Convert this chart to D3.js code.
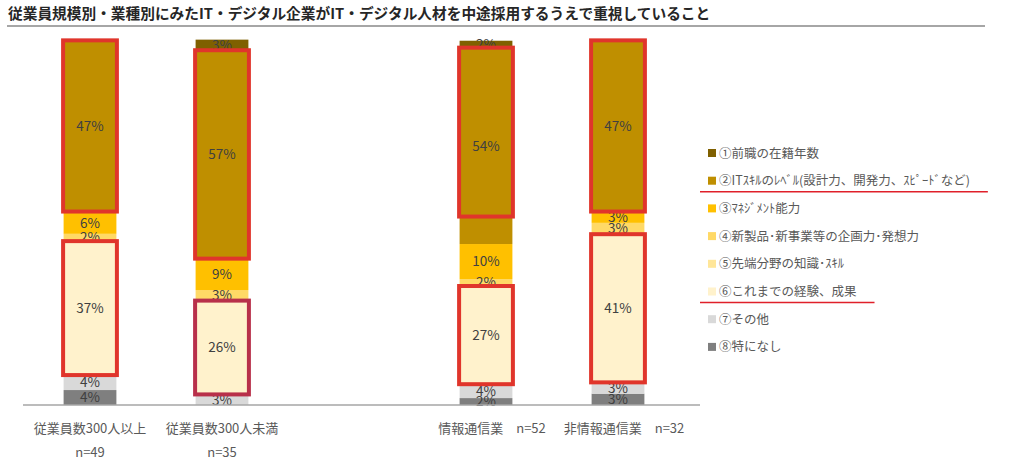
<!DOCTYPE html>
<html><head><meta charset="utf-8">
<script src="https://cdn.jsdelivr.net/npm/d3@7"></script>
<style>
body{margin:0;background:#fff;}
text{font-family:"Noto Sans CJK JP","Noto Sans",sans-serif;}
</style></head>
<body><svg id="c" width="1018" height="472"></svg>
<script>
const title = "従業員規模別・業種別にみたIT・デジタル企業がIT・デジタル人材を中途採用するうえで重視していること";
const categories = ["従業員数300人以上", "従業員数300人未満", "情報通信業", "非情報通信業"];
const sampleSizes = ["n=49", "n=35", "n=52", "n=32"];
const seriesNames = ["①前職の在籍年数", "②ITｽｷﾙのﾚﾍﾞﾙ(設計力、開発力、ｽﾋﾟｰﾄﾞなど)", "③ﾏﾈｼﾞﾒﾝﾄ能力", "④新製品･新事業等の企画力･発想力", "⑤先端分野の知識･ｽｷﾙ", "⑥これまでの経験、成果", "⑦その他", "⑧特になし"];
const s1 = [0, 2.9, 1.9, 0];
const s2 = [46.9, 57.1, 53.8, 46.9];
const s3 = [6.1, 8.6, 9.6, 3.1];
const s4 = [2.0, 2.9, 1.9, 3.1];
const s5 = [0, 0, 0, 0];
const s6 = [36.7, 25.7, 26.9, 40.6];
const s7 = [4.1, 2.9, 3.8, 3.1];
const s8 = [4.1, 0, 1.9, 3.1];
const seriesValues = [s1, s2, s3, s4, s5, s6, s7, s8];
const colors = ["#7f6000", "#bf8f00", "#ffc000", "#ffd966", "#ffe699", "#fff2cc", "#d9d9d9", "#7f7f7f"];
// highlighted segments: [category index, series index, colour, share of segment covered from top]
const highlights = [[0,1,"#e0352b",1],[0,5,"#e0352b",1],[1,1,"#e0352b",1],[1,5,"#b8304a",1],[2,1,"#e0352b",0.86],[2,5,"#e0352b",1],[3,1,"#e0352b",1],[3,5,"#e0352b",1]];
const underlined = [1, 5];

const svg = d3.select("#c");
// title
svg.append("text").attr("x", 8).attr("y", 19).attr("font-size", 14.7).attr("font-weight", "bold")
  .attr("fill", "#262626").text(title);
svg.append("line").attr("x1", 7).attr("x2", 985).attr("y1", 26).attr("y2", 26)
  .attr("stroke", "#a6a6a6").attr("stroke-width", 2);

const xDomain = [categories[0], categories[1], "__gap__", categories[2], categories[3]];
const x = d3.scaleBand().domain(xDomain).range([24, 684]).paddingInner(0.6).paddingOuter(0.3);
const y = d3.scaleLinear().domain([0, 100]).range([405, 40]);

const rows = categories.map((c, i) => {
  const r = {cat: c};
  seriesNames.forEach((s, j) => r[s] = seriesValues[j][i]);
  return r;
});
const stackKeys = seriesNames.slice().reverse();
const stacked = d3.stack().keys(stackKeys)(rows);

const g = svg.append("g");
stacked.forEach(layer => {
  const si = seriesNames.indexOf(layer.key);
  layer.forEach(d => {
    const v = d[1] - d[0];
    if (v <= 0) return;
    g.append("rect").attr("x", x(d.data.cat)).attr("width", x.bandwidth())
      .attr("y", y(d[1])).attr("height", y(d[0]) - y(d[1])).attr("fill", colors[si]);
  });
});
// value labels
stacked.forEach(layer => {
  layer.forEach(d => {
    const v = d[1] - d[0];
    if (v <= 0) return;
    g.append("text").attr("x", x(d.data.cat) + x.bandwidth() / 2)
      .attr("y", (y(d[0]) + y(d[1])) / 2).attr("dy", "0.36em")
      .attr("text-anchor", "middle").attr("font-size", 13.5).attr("fill", "#404040")
      .text(Math.round(v) + "%");
  });
});
// highlight boxes
highlights.forEach(([ci, si, col, cover]) => {
  const layer = stacked.find(l => l.key === seriesNames[si]);
  const d = layer[ci];
  const top = d[1], bottom = d[1] - (d[1] - d[0]) * cover;
  g.append("rect").attr("x", x(categories[ci]) - 0.5).attr("width", x.bandwidth() + 1)
    .attr("y", y(top)).attr("height", y(bottom) - y(top))
    .attr("fill", "none").attr("stroke", col).attr("stroke-width", 4);
});
// baseline axis
svg.append("line").attr("x1", 23).attr("x2", 700).attr("y1", y(0)).attr("y2", y(0))
  .attr("stroke", "#a6a6a6").attr("stroke-width", 1.5);

// category labels
categories.forEach((c, i) => {
  const cx = x(c) + x.bandwidth() / 2;
  if (i < 2) {
    svg.append("text").attr("x", cx).attr("y", 433).attr("text-anchor", "middle")
      .attr("font-size", 13).attr("fill", "#595959").text(c);
    svg.append("text").attr("x", cx).attr("y", 457).attr("text-anchor", "middle")
      .attr("font-size", 13).attr("fill", "#595959").text(sampleSizes[i]);
  } else {
    svg.append("text").attr("x", cx + 6).attr("y", 433).attr("text-anchor", "middle")
      .attr("font-size", 13).attr("fill", "#595959").text(c + "　" + sampleSizes[i]);
  }
});

// legend
const lg = svg.append("g");
seriesNames.forEach((s, i) => {
  const ly = 153 + i * 27.7;
  lg.append("rect").attr("x", 708).attr("y", ly - 4).attr("width", 8).attr("height", 8).attr("fill", colors[i]);
  const t = lg.append("text").attr("x", 719).attr("y", ly).attr("dy", "0.36em")
    .attr("font-size", 12.5).attr("fill", "#595959").text(s);
  if (underlined.includes(i)) {
    const w = t.node().getComputedTextLength();
    lg.append("line").attr("x1", 700).attr("x2", 719 + w + 18).attr("y1", ly + 11).attr("y2", ly + 11)
      .attr("stroke", "#e0202a").attr("stroke-width", 1.5);
  }
});
</script></body></html>
